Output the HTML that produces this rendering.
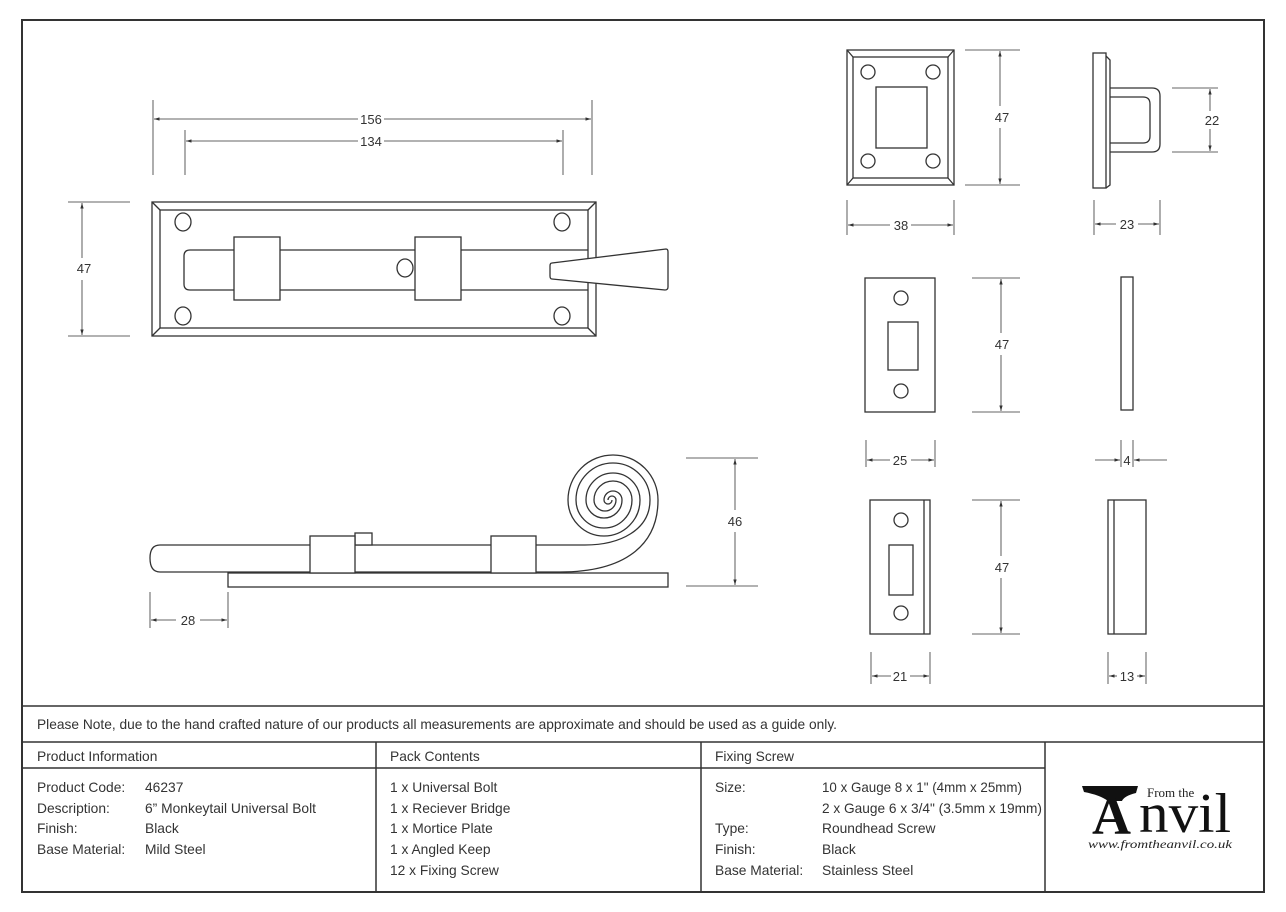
<!DOCTYPE html>
<html><head><meta charset="utf-8"><style>
html,body{margin:0;padding:0;background:#fff;width:1286px;height:912px;overflow:hidden}
svg{display:block}
text{font-family:"Liberation Sans",sans-serif;fill:#333}
.t{font-size:13.8px}
.d{font-size:13px}
</style></head><body>
<svg width="1286" height="912" viewBox="0 0 1286 912" xmlns="http://www.w3.org/2000/svg">
<defs>
<marker id="a" viewBox="0 0 10 10" refX="10" refY="5" markerWidth="7" markerHeight="7" orient="auto-start-reverse"><path d="M0,2 L10,5 L0,8 z" fill="#333"/></marker>
</defs>
<g fill="none" stroke="#333" stroke-width="1.5">
<rect x="22" y="20" width="1242" height="872" stroke-width="2"/>
<line x1="22" y1="706" x2="1264" y2="706"/>
<line x1="22" y1="742" x2="1264" y2="742"/>
<line x1="22" y1="768" x2="1045" y2="768"/>
<line x1="376" y1="742" x2="376" y2="892"/>
<line x1="701" y1="742" x2="701" y2="892"/>
<line x1="1045" y1="742" x2="1045" y2="892"/>
</g>
<g fill="none" stroke="#333" stroke-width="1.3">
<!-- top view -->
<rect x="152" y="202" width="444" height="134"/>
<rect x="160" y="210" width="428" height="118"/>
<line x1="152" y1="202" x2="160" y2="210"/><line x1="596" y1="202" x2="588" y2="210"/>
<line x1="152" y1="336" x2="160" y2="328"/><line x1="596" y1="336" x2="588" y2="328"/>
<ellipse cx="183" cy="222" rx="8" ry="9"/><ellipse cx="562" cy="222" rx="8" ry="9"/>
<ellipse cx="183" cy="316" rx="8" ry="9"/><ellipse cx="562" cy="316" rx="8" ry="9"/>
<path d="M190,250 L588,250 M588,290 L190,290 Q184,290 184,284 L184,256 Q184,250 190,250"/>
<rect x="234" y="237" width="46" height="63" fill="#fff"/>
<rect x="415" y="237" width="46" height="63" fill="#fff"/>
<ellipse cx="405" cy="268" rx="8" ry="9" fill="#fff"/>
<path d="M552,263 L666,249 Q668,249 668,252 L668,287 Q668,290 665,290 L552,279 Q550,279 550,276 L550,266 Q550,263 552,263z" fill="#fff"/>
<line x1="153" y1="100" x2="153" y2="175" stroke-width="0.8"/>
<line x1="592" y1="100" x2="592" y2="175" stroke-width="0.8"/>
<line x1="185" y1="130" x2="185" y2="175" stroke-width="0.8"/>
<line x1="563" y1="130" x2="563" y2="175" stroke-width="0.8"/>
<line x1="154" y1="119" x2="358" y2="119" stroke-width="0.8" marker-start="url(#a)"/>
<line x1="384" y1="119" x2="591" y2="119" stroke-width="0.8" marker-end="url(#a)"/>
<line x1="186" y1="141" x2="358" y2="141" stroke-width="0.8" marker-start="url(#a)"/>
<line x1="384" y1="141" x2="562" y2="141" stroke-width="0.8" marker-end="url(#a)"/>
<line x1="68" y1="202" x2="130" y2="202" stroke-width="0.8"/>
<line x1="68" y1="336" x2="130" y2="336" stroke-width="0.8"/>
<line x1="82" y1="203" x2="82" y2="258" stroke-width="0.8" marker-start="url(#a)"/>
<line x1="82" y1="280" x2="82" y2="335" stroke-width="0.8" marker-end="url(#a)"/>
<!-- side view -->
<rect x="228" y="573" width="440" height="14"/>
<path d="M160,545 L585,545 C620,545 650,530 650,500 A37,37 0 0 0 576,500 A28,28 0 0 0 632,500 A19,19 0 0 0 594,500 A11,11 0 0 0 616,500 A4,4 0 0 0 608,500"/>
<path d="M160,572 L560,572 C625,572 658,545 658,500 A45,45 0 0 0 568,500 A36,36 0 0 0 640,500 A27,27 0 0 0 586,500 A18,18 0 0 0 622,500 A9,9 0 0 0 604,500 A4,4 0 0 0 612,500"/>
<path d="M160,545 Q150,545 150,558 Q150,572 160,572"/>
<rect x="355" y="533" width="17" height="12" fill="#fff"/>
<rect x="310" y="536" width="45" height="37" fill="#fff"/>
<rect x="491" y="536" width="45" height="37" fill="#fff"/>
<line x1="686" y1="458" x2="758" y2="458" stroke-width="0.8"/>
<line x1="686" y1="586" x2="758" y2="586" stroke-width="0.8"/>
<line x1="735" y1="459" x2="735" y2="510" stroke-width="0.8" marker-start="url(#a)"/>
<line x1="735" y1="532" x2="735" y2="585" stroke-width="0.8" marker-end="url(#a)"/>
<line x1="150" y1="592" x2="150" y2="628" stroke-width="0.8"/>
<line x1="228" y1="592" x2="228" y2="628" stroke-width="0.8"/>
<line x1="151" y1="620" x2="176" y2="620" stroke-width="0.8" marker-start="url(#a)"/>
<line x1="200" y1="620" x2="227" y2="620" stroke-width="0.8" marker-end="url(#a)"/>
<!-- receiver bridge -->
<rect x="847" y="50" width="107" height="135"/>
<rect x="853" y="57" width="95" height="121"/>
<line x1="847" y1="50" x2="853" y2="57"/><line x1="954" y1="50" x2="948" y2="57"/>
<line x1="847" y1="185" x2="853" y2="178"/><line x1="954" y1="185" x2="948" y2="178"/>
<circle cx="868" cy="72" r="7"/><circle cx="933" cy="72" r="7"/>
<circle cx="868" cy="161" r="7"/><circle cx="933" cy="161" r="7"/>
<rect x="876" y="87" width="51" height="61"/>
<line x1="965" y1="50" x2="1020" y2="50" stroke-width="0.8"/>
<line x1="965" y1="185" x2="1020" y2="185" stroke-width="0.8"/>
<line x1="1000" y1="51" x2="1000" y2="106" stroke-width="0.8" marker-start="url(#a)"/>
<line x1="1000" y1="128" x2="1000" y2="184" stroke-width="0.8" marker-end="url(#a)"/>
<line x1="847" y1="200" x2="847" y2="235" stroke-width="0.8"/>
<line x1="954" y1="200" x2="954" y2="235" stroke-width="0.8"/>
<line x1="848" y1="225" x2="890" y2="225" stroke-width="0.8" marker-start="url(#a)"/>
<line x1="911" y1="225" x2="953" y2="225" stroke-width="0.8" marker-end="url(#a)"/>
<rect x="1093" y="53" width="13" height="135"/>
<path d="M1106,56 L1110,60 L1110,185 L1106,188"/>
<path d="M1110,88 L1152,88 Q1160,88 1160,96 L1160,144 Q1160,152 1152,152 L1110,152"/>
<path d="M1110,97 L1143,97 Q1150,97 1150,104 L1150,136 Q1150,143 1143,143 L1110,143"/>
<line x1="1172" y1="88" x2="1218" y2="88" stroke-width="0.8"/>
<line x1="1172" y1="152" x2="1218" y2="152" stroke-width="0.8"/>
<line x1="1210" y1="89" x2="1210" y2="111" stroke-width="0.8" marker-start="url(#a)"/>
<line x1="1210" y1="129" x2="1210" y2="151" stroke-width="0.8" marker-end="url(#a)"/>
<line x1="1094" y1="200" x2="1094" y2="235" stroke-width="0.8"/>
<line x1="1160" y1="200" x2="1160" y2="235" stroke-width="0.8"/>
<line x1="1095" y1="224" x2="1116" y2="224" stroke-width="0.8" marker-start="url(#a)"/>
<line x1="1138" y1="224" x2="1159" y2="224" stroke-width="0.8" marker-end="url(#a)"/>
<!-- mortice plate -->
<rect x="865" y="278" width="70" height="134"/>
<circle cx="901" cy="298" r="7"/><circle cx="901" cy="391" r="7"/>
<rect x="888" y="322" width="30" height="48"/>
<line x1="972" y1="278" x2="1020" y2="278" stroke-width="0.8"/>
<line x1="972" y1="412" x2="1020" y2="412" stroke-width="0.8"/>
<line x1="1001" y1="279" x2="1001" y2="333" stroke-width="0.8" marker-start="url(#a)"/>
<line x1="1001" y1="355" x2="1001" y2="411" stroke-width="0.8" marker-end="url(#a)"/>
<line x1="866" y1="440" x2="866" y2="467" stroke-width="0.8"/>
<line x1="935" y1="440" x2="935" y2="467" stroke-width="0.8"/>
<line x1="867" y1="460" x2="890" y2="460" stroke-width="0.8" marker-start="url(#a)"/>
<line x1="911" y1="460" x2="934" y2="460" stroke-width="0.8" marker-end="url(#a)"/>
<rect x="1121" y="277" width="12" height="133"/>
<line x1="1121" y1="440" x2="1121" y2="467" stroke-width="0.8"/>
<line x1="1133" y1="440" x2="1133" y2="467" stroke-width="0.8"/>
<line x1="1095" y1="460" x2="1120" y2="460" stroke-width="0.8" marker-end="url(#a)"/>
<line x1="1167" y1="460" x2="1134" y2="460" stroke-width="0.8" marker-end="url(#a)"/>
<!-- angled keep -->
<rect x="870" y="500" width="60" height="134"/>
<line x1="924" y1="500" x2="924" y2="634"/>
<circle cx="901" cy="520" r="7"/><circle cx="901" cy="613" r="7"/>
<rect x="889" y="545" width="24" height="50"/>
<line x1="972" y1="500" x2="1020" y2="500" stroke-width="0.8"/>
<line x1="972" y1="634" x2="1020" y2="634" stroke-width="0.8"/>
<line x1="1001" y1="501" x2="1001" y2="556" stroke-width="0.8" marker-start="url(#a)"/>
<line x1="1001" y1="578" x2="1001" y2="633" stroke-width="0.8" marker-end="url(#a)"/>
<line x1="871" y1="652" x2="871" y2="684" stroke-width="0.8"/>
<line x1="930" y1="652" x2="930" y2="684" stroke-width="0.8"/>
<line x1="872" y1="676" x2="891" y2="676" stroke-width="0.8" marker-start="url(#a)"/>
<line x1="910" y1="676" x2="929" y2="676" stroke-width="0.8" marker-end="url(#a)"/>
<rect x="1108" y="500" width="38" height="134"/>
<line x1="1114" y1="500" x2="1114" y2="634"/>
<line x1="1108" y1="652" x2="1108" y2="684" stroke-width="0.8"/>
<line x1="1146" y1="652" x2="1146" y2="684" stroke-width="0.8"/>
<line x1="1109" y1="676" x2="1117" y2="676" stroke-width="0.8" marker-start="url(#a)"/>
<line x1="1137" y1="676" x2="1145" y2="676" stroke-width="0.8" marker-end="url(#a)"/>
</g>
<g class="d" text-anchor="middle">
<text x="371" y="124">156</text>
<text x="371" y="146">134</text>
<text x="84" y="273">47</text>
<text x="735" y="526">46</text>
<text x="188" y="625">28</text>
<text x="1002" y="122">47</text>
<text x="901" y="230">38</text>
<text x="1212" y="125">22</text>
<text x="1127" y="229">23</text>
<text x="1002" y="349">47</text>
<text x="900" y="465">25</text>
<text x="1127" y="465">4</text>
<text x="1002" y="572">47</text>
<text x="900" y="681">21</text>
<text x="1127" y="681">13</text>
</g>
<g class="t">
<text x="37" y="729" textLength="800" lengthAdjust="spacingAndGlyphs">Please Note, due to the hand crafted nature of our products all measurements are approximate and should be used as a guide only.</text>
<text x="37" y="761">Product Information</text>
<text x="390" y="761">Pack Contents</text>
<text x="715" y="761">Fixing Screw</text>
<text x="37" y="792">Product Code:</text><text x="145" y="792">46237</text>
<text x="37" y="813">Description:</text><text x="145" y="813">6” Monkeytail Universal Bolt</text>
<text x="37" y="833">Finish:</text><text x="145" y="833">Black</text>
<text x="37" y="854">Base Material:</text><text x="145" y="854">Mild Steel</text>
<text x="390" y="792">1 x Universal Bolt</text>
<text x="390" y="813">1 x Reciever Bridge</text>
<text x="390" y="833">1 x Mortice Plate</text>
<text x="390" y="854">1 x Angled Keep</text>
<text x="390" y="875">12 x Fixing Screw</text>
<text x="715" y="792">Size:</text><text x="822" y="792" textLength="200" lengthAdjust="spacingAndGlyphs">10 x Gauge 8 x 1" (4mm x 25mm)</text>
<text x="822" y="813" textLength="220" lengthAdjust="spacingAndGlyphs">2 x Gauge 6 x 3/4" (3.5mm x 19mm)</text>
<text x="715" y="833">Type:</text><text x="822" y="833">Roundhead Screw</text>
<text x="715" y="854">Finish:</text><text x="822" y="854">Black</text>
<text x="715" y="875">Base Material:</text><text x="822" y="875">Stainless Steel</text>
</g>
<!-- logo -->
<path d="M1082,786 L1138,786 L1136,793 Q1124,796 1122,801 L1108,801 Q1100,795 1084,792z" fill="#111"/>
<text x="1092" y="834" style="font-family:'Liberation Serif',serif;font-size:54px;font-weight:bold;fill:#111">A</text>
<text x="1139" y="832" textLength="92" lengthAdjust="spacingAndGlyphs" style="font-family:'Liberation Serif',serif;font-size:56px;fill:#111">nvil</text>
<text x="1147" y="797" style="font-family:'Liberation Serif',serif;font-size:13px;fill:#222">From the</text>
<text x="1088" y="848" textLength="144" lengthAdjust="spacingAndGlyphs" style="font-family:'Liberation Serif',serif;font-size:12px;font-style:italic;fill:#222">www.fromtheanvil.co.uk</text>
</svg>
</body></html>
